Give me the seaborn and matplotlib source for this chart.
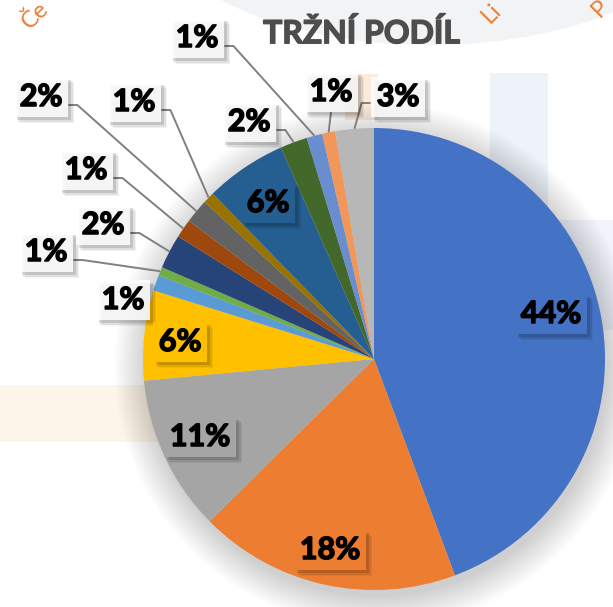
import numpy as np
import matplotlib
matplotlib.use("Agg")
import matplotlib.pyplot as plt
import matplotlib.patheffects as pe
import seaborn as sns
from matplotlib.patches import Ellipse, Rectangle, Circle

sns.set_theme(style="white")
plt.rcParams['font.family'] = ['Lato', 'DejaVu Sans']

# ---------------- data ----------------
title = "TRŽNÍ PODÍL"
shares = [44.3, 18.3, 10.9, 6.3, 1.1, 0.6, 2.4, 1.3, 1.7, 0.8, 5.7, 1.9, 1.1, 0.9, 2.7]
labels = ["44%", "18%", "11%", "6%", "1%", "1%", "2%", "1%", "2%", "1%",
          "6%", "2%", "1%", "1%", "3%"]
colors = ["#4472C4", "#ED7D31", "#A5A5A5", "#FFC000", "#5B9BD5", "#70AD47",
          "#264478", "#9E480E", "#636363", "#997300", "#255E91", "#43682B",
          "#698ED0", "#F1975A", "#B7B7B7"]

# ---------------- layout ----------------
W, H = 613, 607
CX, CY, R = 374, 359, 231          # pie centre / radius in pixels
label_px = [(551, 314), (330, 550), (200, 437), (180, 342), (123, 300),
            (46, 252), (103, 225), (86, 170), (41, 97), (134, 102),
            (268, 203), (249, 122), (197, 38), (331, 92), (398, 97)]
inside = [True, True, True, True, False, False, False, False, False, False,
          True, False, False, False, False]
leader = [None, None, None, None, None, 'right', 'right', 'right', 'right',
          'right', None, 'right', 'right', 'bottom', 'left']


def p2d(px, py):
    return (px - CX) / R, (CY - py) / R


fig = plt.figure(figsize=(W / 100, H / 100), dpi=100)
fig.patch.set_facecolor("white")
ax = fig.add_axes([0, 0, 1, 1])

# ---------------- faint background watermark ----------------
ex, ey = p2d(430, -90)
ax.add_patch(Ellipse((ex, ey), 560 / R, 270 / R, color="#F2F3F5", lw=0, zorder=0))
x0, y0 = p2d(490, 330)
ax.add_patch(Rectangle((x0, y0), 58 / R, 257 / R, color="#EEF3FA", lw=0, zorder=0))
x0, y0 = p2d(548, 330)
ax.add_patch(Rectangle((x0, y0), 65 / R, 110 / R, color="#F1F5FB", lw=0, zorder=0))
x0, y0 = p2d(0, 442)
ax.add_patch(Rectangle((x0, y0), 170 / R, 57 / R, color="#FDF4EA", lw=0, zorder=0))
x0, y0 = p2d(345, 120)
ax.add_patch(Rectangle((x0, y0), 33 / R, 46 / R, color="#FCEADB", lw=0, zorder=0))
for txt, (tx, ty) in [("Če", (30, 30)), ("Li", (490, 24)), ("P", (600, 18))]:
    ax.text(*p2d(tx, ty), txt, rotation=45, rotation_mode="anchor",
            ha="left", va="baseline", fontsize=17, color="#ED7D31",
            fontweight="normal", zorder=1)

# ---------------- pie shadow ----------------
for i in range(16):
    ax.add_patch(Circle((0.012, -0.028), 1.0 + 0.009 * i, color="black",
                        alpha=0.011, lw=0, zorder=1))

pal = sns.color_palette(colors)
wedges, _ = ax.pie(shares, colors=pal, startangle=90, counterclock=False,
                   radius=1.0, wedgeprops=dict(linewidth=0), frame=True)
for w in wedges:
    w.set_zorder(2)

ax.set_aspect("auto")
ax.set_xlim(-CX / R, (W - CX) / R)
ax.set_ylim(-(H - CY) / R, CY / R)
ax.axis("off")

# ---------------- title ----------------
ax.text(*p2d(362, 33), title, ha="center", va="center", fontsize=23,
        fontweight="bold", color="#4D4D4D", zorder=6,
        path_effects=[pe.withStroke(linewidth=1.0, foreground="#4D4D4D")])

# ---------------- labels ----------------
texts = []
for i, lab in enumerate(labels):
    x, y = p2d(*label_px[i])
    fc = pal[i] if inside[i] else (1, 1, 1, 0.85)
    t = ax.text(x, y, lab, ha="center", va="center", fontsize=22,
                fontweight="bold", color="black", zorder=5,
                bbox=dict(boxstyle="square,pad=0.2", fc=fc, ec="none"),
                path_effects=[pe.withStroke(linewidth=1.1, foreground="black")])
    texts.append(t)

fig.canvas.draw()
renderer = fig.canvas.get_renderer()
inv = ax.transData.inverted()
for i, t in enumerate(texts):
    bb = t.get_bbox_patch().get_window_extent(renderer)
    (bx0, by0), (bx1, by1) = inv.transform([[bb.x0, bb.y0], [bb.x1, bb.y1]])
    # soft drop shadow
    for k, a in [(6, 0.05), (4.5, 0.08), (3, 0.12)]:
        ax.add_patch(Rectangle((bx0 + k / R, by0 - k / R), bx1 - bx0, by1 - by0,
                               color="black", alpha=a, lw=0, zorder=4))
    if leader[i] is None:
        continue
    cy_ = (by0 + by1) / 2
    w = wedges[i]
    mid = np.deg2rad((w.theta1 + w.theta2) / 2)
    tx, ty = np.cos(mid), np.sin(mid)
    if leader[i] == 'right':
        sy = cy_ - 8 / R
        xs = [bx1, bx1 + 9 / R, tx]
        ys = [sy, sy, ty]
    elif leader[i] == 'left':
        sy = cy_ - 6 / R
        xs = [bx0, bx0 - 9 / R, tx]
        ys = [sy, sy, ty]
    else:
        xs = [(bx0 + bx1) / 2, tx]
        ys = [by0, ty]
    ax.plot(xs, ys, color="#808080", lw=1.4, zorder=3, solid_capstyle="butt")

fig.savefig("out.png", dpi=100, facecolor="white")
